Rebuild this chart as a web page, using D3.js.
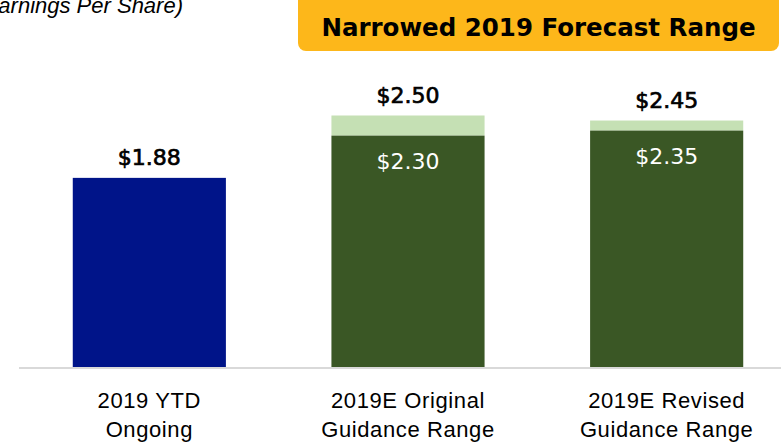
<!DOCTYPE html>
<html lang="en">
<head>
<meta charset="UTF-8">
<title>Narrowed 2019 Forecast Range</title>
<script src="https://d3js.org/d3.v7.min.js"></script>
<style>
  body { margin: 0; background: #fff; }
  svg { display: block; }
  .val { font-family: "DejaVu Sans", sans-serif; font-size: 22px; }
  .cat { font-family: "Liberation Sans", Arial, sans-serif; font-size: 22px; letter-spacing: 0.6px; fill: #000; }
</style>
</head>
<body>
<svg id="chart" width="781" height="442"></svg>
<script>
// values
const categories = ["2019 YTD\nOngoing", "2019E Original\nGuidance Range", "2019E Revised\nGuidance Range"];
const lowValues = [1.88, 2.30, 2.35];
const highValues = [null, 2.50, 2.45];
const barColors = ["#001489", "#3a5725", "#3a5725"];
const rangeColor = "#c5e0b4";
const title = "Narrowed 2019 Forecast Range";
const unitLabel = "(Earnings Per Share)";

const svg = d3.select("#chart");

const x = d3.scaleBand()
    .domain(categories)
    .range([20, 796])
    .paddingInner(0.408)
    .paddingOuter(0.204);

const y = d3.scaleLinear()
    .domain([0, 2.5])
    .range([367, 115.5]);

const fmt = d => "$" + d3.format(".2f")(d);

const rows = categories.map((c, i) => ({ cat: c, low: lowValues[i], high: highValues[i], color: barColors[i] }));

// unit label, cut off at the left edge like the slide
svg.append("text")
    .attr("x", 183)
    .attr("y", 13)
    .attr("text-anchor", "end")
    .style("font-family", "'Liberation Sans', Arial, sans-serif")
    .style("font-style", "italic")
    .style("font-size", "22px")
    .text(unitLabel);

// orange banner
svg.append("rect")
    .attr("x", 298)
    .attr("y", -10)
    .attr("width", 481)
    .attr("height", 61)
    .attr("rx", 8)
    .attr("fill", "#fdb71a");

svg.append("text")
    .attr("x", 538.5)
    .attr("y", 36)
    .attr("text-anchor", "middle")
    .style("font-family", "'DejaVu Sans', sans-serif")
    .style("font-weight", "bold")
    .style("font-size", "24.5px")
    .text(title);

// range part (high - low)
svg.append("g").selectAll("rect")
    .data(rows.filter(d => d.high != null))
    .join("rect")
    .attr("x", d => x(d.cat))
    .attr("width", x.bandwidth())
    .attr("y", d => y(d.high))
    .attr("height", d => y(d.low) - y(d.high))
    .attr("fill", rangeColor);

// main bars
svg.append("g").selectAll("rect")
    .data(rows)
    .join("rect")
    .attr("x", d => x(d.cat))
    .attr("width", x.bandwidth())
    .attr("y", d => y(d.low))
    .attr("height", d => y(0) - y(d.low))
    .attr("fill", d => d.color);

// axis line
svg.append("line")
    .attr("x1", 19)
    .attr("x2", 781)
    .attr("y1", y(0) + 1)
    .attr("y2", y(0) + 1)
    .attr("stroke", "#d9d9d9")
    .attr("stroke-width", 2);

// labels above bars
svg.append("g").selectAll("text")
    .data(rows)
    .join("text")
    .attr("class", "val")
    .attr("x", d => x(d.cat) + x.bandwidth() / 2)
    .attr("y", d => y(d.high != null ? d.high : d.low) - 13)
    .attr("text-anchor", "middle")
    .attr("stroke", "#000")
    .attr("stroke-width", 0.7)
    .text(d => fmt(d.high != null ? d.high : d.low));

// low labels inside range bars
svg.append("g").selectAll("text")
    .data(rows.filter(d => d.high != null))
    .join("text")
    .attr("class", "val")
    .attr("x", d => x(d.cat) + x.bandwidth() / 2)
    .attr("y", d => y(d.low) + 33)
    .attr("text-anchor", "middle")
    .attr("fill", "#fff")
    .text(d => fmt(d.low));

// category labels
const cats = svg.append("g").selectAll("text")
    .data(categories)
    .join("text")
    .attr("class", "cat")
    .attr("x", d => x(d) + x.bandwidth() / 2)
    .attr("y", 408)
    .attr("text-anchor", "middle");

cats.selectAll("tspan")
    .data(d => d.split("\n"))
    .join("tspan")
    .attr("x", function () { return this.parentNode.getAttribute("x"); })
    .attr("dy", (d, i) => i === 0 ? 0 : 29)
    .text(d => d);
</script>
</body>
</html>
